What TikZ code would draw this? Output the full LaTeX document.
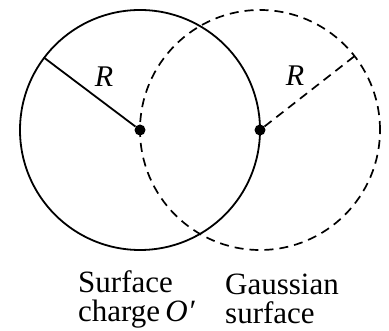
\documentclass[tikz,border=0pt]{standalone}
\usepackage{fontspec}
\setmainfont{Liberation Serif}
\usetikzlibrary{positioning, calc}

\begin{document}
\begin{tikzpicture}[
    x=1pt, y=1pt,
    dot/.style={circle, fill=black, inner sep=0pt, minimum size=11pt},
    rim/.style={line width=1.8pt},
    lbl/.style={inner sep=0pt, align=left, font=\fontsize{31}{29}\selectfont},
    rlbl/.style={inner sep=0pt, font=\fontsize{30}{30}\selectfont\itshape},
    dash pat/.style={line width=1.7pt, dash pattern=on 9pt off 6pt}
]
    \useasboundingbox (0,0) rectangle (389,331);
    % centres
    \node[dot] (charge) at (140,201) {};
    \node[dot] (gauss) at (260,201) {};
    \coordinate (rimA) at ($(charge)+(143:120)$);
    \coordinate (rimB) at ($(gauss)+(38:120)$);
    % spheres
    \draw[rim] (charge) circle (120);
    \draw[dash pat] (gauss) circle (120);
    \draw[rim] (charge) -- (rimA);
    \draw[dash pat] (gauss) -- (rimB);
    \node[rlbl] (rA) at (104,254) {R};
    \node[rlbl] (rB) at (295,255) {R};
    % labels
    \node[lbl, anchor=base west] (surf) at (78,9) {Surface\\charge\,\textit{O′}};
    \node[lbl, anchor=base west] (gaus) at (225,7) {Gaussian\\surface};
\end{tikzpicture}
\end{document}
